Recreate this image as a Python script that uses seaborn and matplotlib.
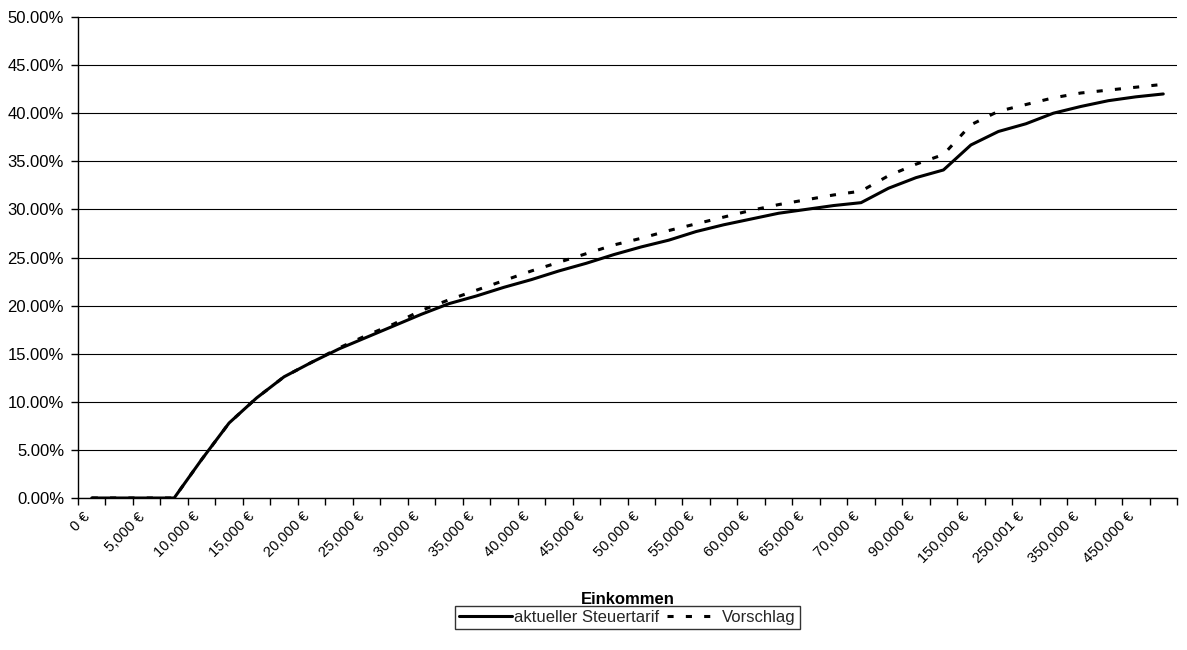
import matplotlib
matplotlib.use("Agg")
import matplotlib.pyplot as plt
import seaborn as sns
from matplotlib.ticker import FuncFormatter, FixedLocator, MultipleLocator

# ---- data (percent) ----
incomes = [0, 2500, 5000, 7500, 10000, 12500, 15000, 17500, 20000, 22500,
           25000, 27500, 30000, 32500, 35000, 37500, 40000, 42500, 45000, 47500,
           50000, 52500, 55000, 57500, 60000, 62500, 65000, 67500, 70000, 80000,
           90000, 100000, 150000, 200000, 250001, 300000, 350000, 400000, 450000, 500000]

aktuell = [0.0, 0.0, 0.0, 0.0, 4.0, 7.8, 10.4, 12.6, 14.1, 15.5,
           16.7, 17.9, 19.1, 20.2, 21.0, 21.9, 22.7, 23.6, 24.4, 25.3,
           26.1, 26.8, 27.7, 28.4, 29.0, 29.6, 30.0, 30.4, 30.7, 32.2,
           33.3, 34.1, 36.7, 38.1, 38.9, 40.0, 40.7, 41.3, 41.7, 42.0]

vorschlag = [0.0, 0.0, 0.0, 0.0, 4.0, 7.8, 10.4, 12.6, 14.1, 15.6,
             16.9, 18.1, 19.5, 20.6, 21.6, 22.6, 23.6, 24.5, 25.4, 26.3,
             27.0, 27.8, 28.5, 29.2, 29.9, 30.5, 31.0, 31.5, 31.9, 33.5,
             34.7, 35.7, 38.8, 40.2, 40.9, 41.6, 42.1, 42.4, 42.7, 43.0]

series_names = ["aktueller Steuertarif", "Vorschlag"]
x_title = "Einkommen"

categories = [f"{v:,} €" for v in incomes]

sns.set_theme(style="white")
plt.rcParams["font.family"] = ["Liberation Sans", "DejaVu Sans"]
plt.rcParams["font.size"] = 12

fig, ax = plt.subplots(figsize=(11.87, 6.5), dpi=100)
fig.subplots_adjust(left=78 / 1187, right=1177 / 1187, top=1 - 17 / 650, bottom=1 - 498 / 650)

sns.lineplot(x=categories, y=aktuell, sort=False, color="black", linewidth=2.2,
             label=series_names[0], ax=ax)
sns.lineplot(x=categories, y=vorschlag, sort=False, color="black", linewidth=2.2,
             linestyle=(0, (2.0, 4.0)), label=series_names[1], ax=ax)

n = len(categories)
ax.set_xlim(-0.5, n - 0.5)
ax.set_ylim(0, 50)
ax.yaxis.set_major_locator(MultipleLocator(5))
ax.yaxis.set_major_formatter(FuncFormatter(lambda v, p: f"{v:.2f}%"))
ax.grid(axis="y", color="black", linewidth=0.8)
ax.grid(axis="x", visible=False)
ax.set_axisbelow(True)

# label anchors sit slightly left of each labelled category centre (as in the reference)
label_idx = list(range(0, n, 2))
ax.xaxis.set_major_locator(FixedLocator([i - 0.15 for i in label_idx]))
ax.set_xticklabels([categories[i] for i in label_idx], rotation=45,
                   ha="right", va="center", rotation_mode="anchor")
ax.xaxis.set_minor_locator(FixedLocator([i - 0.5 for i in range(n + 1)]))
ax.tick_params(axis="x", which="major", length=0, pad=12, labelsize=10.5, colors="black")
ax.tick_params(axis="x", which="minor", length=5, width=1, color="black", direction="out", bottom=True)
ax.tick_params(axis="y", which="major", length=5, width=1, color="black", direction="out",
               left=True, labelsize=12, labelcolor="black", pad=5)

for s in ["top", "right"]:
    ax.spines[s].set_visible(False)
for s in ["left", "bottom"]:
    ax.spines[s].set_color("black")
    ax.spines[s].set_linewidth(1)

ax.set_xlabel(x_title, fontweight="bold", fontsize=12, color="black")
ax.xaxis.set_label_coords(0.5, -0.196)
ax.set_ylabel("")

leg = ax.legend(loc="center", bbox_to_anchor=(0.5, -0.248), ncol=2, frameon=True,
                fancybox=False, edgecolor="black", fontsize=12, handlelength=3.2,
                handletextpad=0.1, columnspacing=0.5, borderpad=0.25, borderaxespad=0)
leg.get_frame().set_linewidth(1)

fig.savefig("out.png", dpi=100, facecolor="white")
